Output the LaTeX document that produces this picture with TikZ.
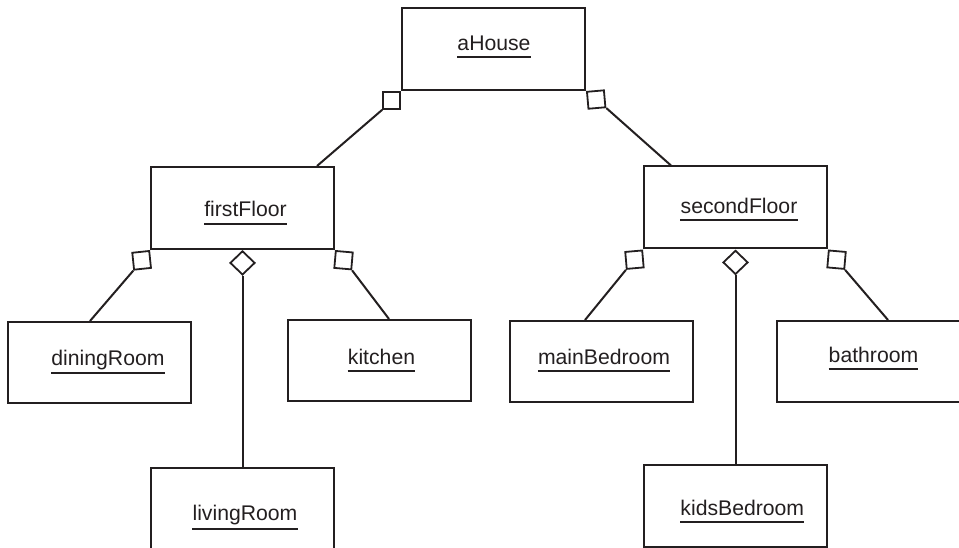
\documentclass[tikz,border=0pt]{standalone}
\usepackage{fontspec}
\setmainfont{Liberation Sans}
\usetikzlibrary{shapes.geometric}
\definecolor{ink}{RGB}{35,31,32}
\begin{document}
\begin{tikzpicture}[x=1pt,y=-1pt,
  box/.style={draw=ink, line width=2pt, minimum width=183pt, minimum height=82pt, inner sep=0pt},
  lbl/.style={font=\fontsize{21.2pt}{25pt}\selectfont, text=ink, inner sep=0pt, anchor=base},
  sq/.style={draw=ink, line width=1.8pt, minimum size=17pt, inner sep=0pt},
  dia/.style={diamond, draw=ink, line width=1.8pt, minimum width=25pt, minimum height=24pt, inner sep=0pt, anchor=north},
  conn/.style={draw=ink, line width=2pt},
  ul/.style={draw=ink, line width=2pt}
]
\useasboundingbox (0,0) rectangle (959,548);

% boxes
\node[box] (aHouse) at (493.5,49) {};
\node[box] (firstFloor) at (242.5,208) {};
\node[box] (secondFloor) at (735.5,207.5) {};
\node[box, minimum height=81pt] (diningRoom) at (99.5,362.5) {};
\node[box, minimum height=81pt] (kitchen) at (379.5,360.5) {};
\node[box, minimum height=81pt] (mainBedroom) at (601.5,361.5) {};
\node[box, minimum height=81pt, minimum width=200pt] (bathroom) at (877,361.5) {};
\node[box] (livingRoom) at (242.5,509) {};
\node[box] (kidsBedroom) at (735.5,506) {};

% labels
\node[lbl] (aHouse-t) at (494,50.7) {aHouse};
\node[lbl] (firstFloor-t) at (245.5,216.7) {firstFloor};
\node[lbl] (secondFloor-t) at (739,213.3) {secondFloor};
\node[lbl] (diningRoom-t) at (108,365) {diningRoom};
\node[lbl] (kitchen-t) at (381.5,364) {kitchen};
\node[lbl] (mainBedroom-t) at (604,364) {mainBedroom};
\node[lbl] (bathroom-t) at (873.5,362.7) {bathroom};
\node[lbl] (livingRoom-t) at (245,520) {livingRoom};
\node[lbl] (kidsBedroom-t) at (742.3,515) {kidsBedroom};

% underlines
\draw[ul] ([yshift=-6.3pt]aHouse-t.base west) -- ([yshift=-6.3pt]aHouse-t.base east);
\draw[ul] ([yshift=-7.3pt]firstFloor-t.base west) -- ([yshift=-7.3pt]firstFloor-t.base east);
\draw[ul] ([yshift=-6.7pt]secondFloor-t.base west) -- ([yshift=-6.7pt]secondFloor-t.base east);
\draw[ul] ([yshift=-8.3pt]diningRoom-t.base west) -- ([yshift=-8.3pt]diningRoom-t.base east);
\draw[ul] ([yshift=-6.7pt]kitchen-t.base west) -- ([yshift=-6.7pt]kitchen-t.base east);
\draw[ul] ([yshift=-6.7pt]mainBedroom-t.base west) -- ([yshift=-6.7pt]mainBedroom-t.base east);
\draw[ul] ([yshift=-6.6pt]bathroom-t.base west) -- ([yshift=-6.6pt]bathroom-t.base east);
\draw[ul] ([yshift=-9pt]livingRoom-t.base west) -- ([yshift=-9pt]livingRoom-t.base east);
\draw[ul] ([yshift=-6.7pt]kidsBedroom-t.base west) -- ([yshift=-6.7pt]kidsBedroom-t.base east);

% adornments
\node[sq, anchor=north east] (sqA1) at (aHouse.south west) {};
\node[sq, rotate=5, anchor=north west] (sqA2) at (aHouse.south east) {};
\node[sq, rotate=6, anchor=north east] (sqF1) at (firstFloor.south west) {};
\node[sq, rotate=-5, anchor=north west] (sqF2) at (firstFloor.south east) {};
\node[sq, rotate=5, anchor=north east] (sqS1) at (secondFloor.south west) {};
\node[sq, rotate=-5, anchor=north west] (sqS2) at (secondFloor.south east) {};
\node[dia] (dF) at (firstFloor.south) {};
\node[dia] (dS) at (secondFloor.south) {};

% connectors
\draw[conn] (sqA1.south west) -- ([xshift=167pt]firstFloor.north west);
\draw[conn] (sqA2.south east) -- ([xshift=28pt]secondFloor.north west);
\draw[conn] (sqF1.south west) -- ([xshift=83pt]diningRoom.north west);
\draw[conn] (sqF2.south east) -- ([xshift=102pt]kitchen.north west);
\draw[conn] (sqS1.south west) -- ([xshift=76pt]mainBedroom.north west);
\draw[conn] (sqS2.south east) -- ([xshift=112pt]bathroom.north west);
\draw[conn] (dF.south) -- (livingRoom.north);
\draw[conn] (dS.south) -- (kidsBedroom.north);
\end{tikzpicture}
\end{document}
